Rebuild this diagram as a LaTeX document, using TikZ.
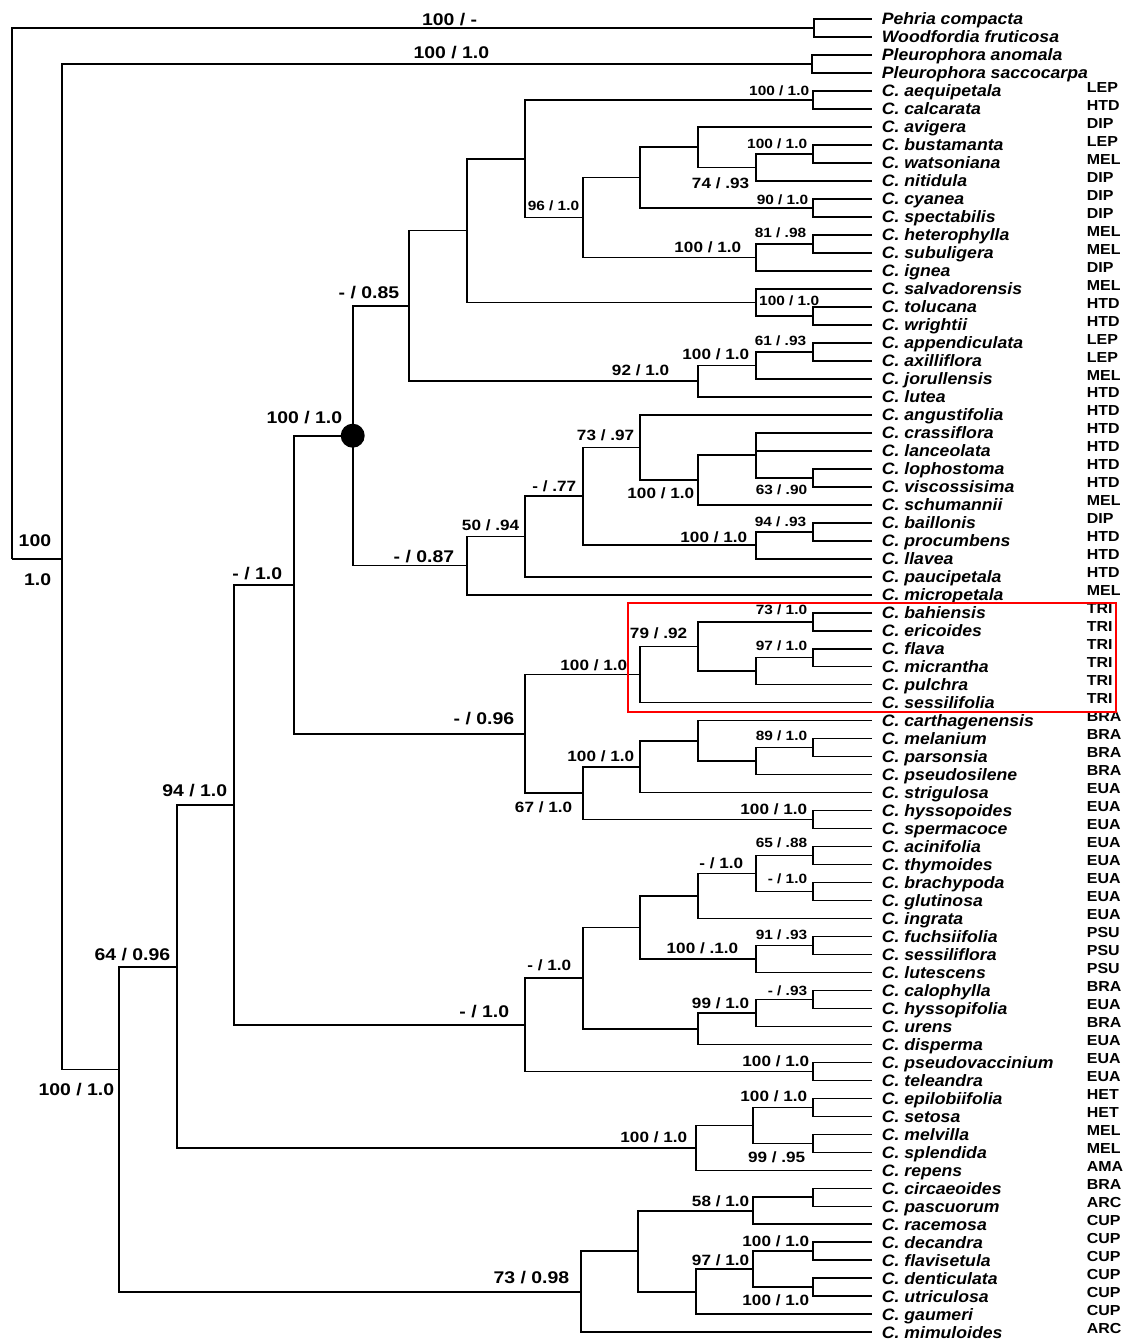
\documentclass[tikz,border=0pt]{standalone}
\usepackage{fontspec}
\usepackage{tikz}
\usetikzlibrary{positioning}
\newfontfamily\brfont[FakeStretch=1.15]{Liberation Sans}
\newfontfamily\lvfont[FakeStretch=1.07]{Liberation Sans}
\newfontfamily\sefont[FakeStretch=1.1]{Liberation Sans}

\begin{document}
\begin{tikzpicture}[x=1pt,y=-1pt,line width=1.7pt,
  every node/.style={inner sep=0pt},
  leaf/.style={anchor=base west,yshift=-5.9pt,font=\lvfont\bfseries\itshape\fontsize{16.5}{18}\selectfont},
  sect/.style={anchor=base west,yshift=-1.2pt,font=\sefont\bfseries\fontsize{14.5}{16}\selectfont},
  supsm/.style={anchor=base east,yshift=-4.8pt,font=\brfont\bfseries\fontsize{13.4}{14}\selectfont},
  supmd/.style={anchor=base east,yshift=-5.3pt,font=\brfont\bfseries\fontsize{14.9}{16}\selectfont},
  suplg/.style={anchor=base east,yshift=-6pt,font=\brfont\bfseries\fontsize{16.9}{18}\selectfont}]
\fill[white] (0,0) rectangle (1124,1340);
% leaf tips
\foreach \i in {1,...,74}
  \coordinate (t\i) at (872,{19+(\i-1)*17.99});
\node[leaf] (n1) at ([xshift=9pt]t1) {Pehria compacta};
\node[leaf] (n2) at ([xshift=9pt]t2) {Woodfordia fruticosa};
\node[leaf] (n3) at ([xshift=9pt]t3) {Pleurophora anomala};
\node[leaf] (n4) at ([xshift=9pt]t4) {Pleurophora saccocarpa};
\foreach \i/\nm/\cd in {5/aequipetala/LEP, 6/calcarata/HTD, 7/avigera/DIP, 8/bustamanta/LEP,
  9/watsoniana/MEL, 10/nitidula/DIP, 11/cyanea/DIP, 12/spectabilis/DIP, 13/heterophylla/MEL,
  14/subuligera/MEL, 15/ignea/DIP, 16/salvadorensis/MEL, 17/tolucana/HTD, 18/wrightii/HTD,
  19/appendiculata/LEP, 20/axilliflora/LEP, 21/jorullensis/MEL, 22/lutea/HTD, 23/angustifolia/HTD,
  24/crassiflora/HTD, 25/lanceolata/HTD, 26/lophostoma/HTD, 27/viscossisima/HTD, 28/schumannii/MEL,
  29/baillonis/DIP, 30/procumbens/HTD, 31/llavea/HTD, 32/paucipetala/HTD, 33/micropetala/MEL,
  34/bahiensis/TRI, 35/ericoides/TRI, 36/flava/TRI, 37/micrantha/TRI, 38/pulchra/TRI,
  39/sessilifolia/TRI, 40/carthagenensis/BRA, 41/melanium/BRA, 42/parsonsia/BRA,
  43/pseudosilene/BRA, 44/strigulosa/EUA, 45/hyssopoides/EUA, 46/spermacoce/EUA,
  47/acinifolia/EUA, 48/thymoides/EUA, 49/brachypoda/EUA, 50/glutinosa/EUA, 51/ingrata/EUA,
  52/fuchsiifolia/PSU, 53/sessiliflora/PSU, 54/lutescens/PSU, 55/calophylla/BRA,
  56/hyssopifolia/EUA, 57/urens/BRA, 58/disperma/EUA, 59/pseudovaccinium/EUA, 60/teleandra/EUA,
  61/epilobiifolia/HET, 62/setosa/HET, 63/melvilla/MEL, 64/splendida/MEL, 65/repens/AMA,
  66/circaeoides/BRA, 67/pascuorum/ARC, 68/racemosa/CUP, 69/decandra/CUP, 70/flavisetula/CUP,
  71/denticulata/CUP, 72/utriculosa/CUP, 73/gaumeri/CUP, 74/mimuloides/ARC}{
  \node[leaf] (n\i) at ([xshift=9pt]t\i) {C.\ \nm};
  \node[sect] (s\i) at ([xshift=214pt]t\i) {\cd};
}
% inner nodes
\coordinate (root) at (11.7,559);
\coordinate (PW) at (814,28);
\coordinate (B) at (61.7,559);
\coordinate (PL) at (812,64);
\coordinate (C) at (119.3,1069.6);
\coordinate (D) at (176.7,967);
\coordinate (E) at (234.3,804.8);
\coordinate (F) at (294,584.8);
\coordinate (G) at (352.7,435.7);
\coordinate (H) at (409.3,305.9);
\coordinate (I) at (467.3,230.6);
\coordinate (J) at (525,158.8);
\coordinate (Jp) at (813.3,100);
\coordinate (K) at (582.7,217.5);
\coordinate (L) at (640,177.6);
\coordinate (M) at (697.7,147.2);
\coordinate (N) at (755.7,167.5);
\coordinate (Np) at (813.3,153.9);
\coordinate (Lp) at (813.3,207.9);
\coordinate (Kb) at (755.7,257.4);
\coordinate (Kbp) at (813.3,243.9);
\coordinate (Ib) at (755.7,302.4);
\coordinate (Ibp) at (813.3,315.8);
\coordinate (Hb) at (697.7,381.1);
\coordinate (O) at (755.7,365.4);
\coordinate (Op) at (813.3,351.8);
\coordinate (P) at (467.3,565.6);
\coordinate (Q) at (525,536.5);
\coordinate (R) at (582.7,496.3);
\coordinate (S) at (640,447.4);
\coordinate (U) at (697.7,480);
\coordinate (V) at (755.7,455.3);
\coordinate (Vp) at (813.3,477.7);
\coordinate (T) at (755.7,545.2);
\coordinate (Tp) at (813.3,531.7);
\coordinate (W) at (525.3,733.8);
\coordinate (X) at (640,674.5);
\coordinate (Y) at (697.7,646.4);
\coordinate (Yp) at (813.3,621.7);
\coordinate (Z) at (755.7,671.1);
\coordinate (Zp) at (813.3,657.6);
\coordinate (AA) at (582.7,793.1);
\coordinate (AAp) at (813.3,819.6);
\coordinate (AB) at (640,766.7);
\coordinate (AC) at (697.7,740.9);
\coordinate (AD) at (755.7,761.1);
\coordinate (ADp) at (813.3,747.6);
\coordinate (AE) at (525.3,1024.8);
\coordinate (AEp) at (813.3,1071.4);
\coordinate (AF) at (582.7,978.1);
\coordinate (AG) at (640,927.5);
\coordinate (AI) at (697.7,896);
\coordinate (AK) at (755.7,873.5);
\coordinate (AKa) at (813.3,855.5);
\coordinate (AKb) at (813.3,891.5);
\coordinate (AJ) at (755.7,959);
\coordinate (AJp) at (813.3,945.5);
\coordinate (AH) at (697.7,1028.7);
\coordinate (AL) at (755.7,1012.9);
\coordinate (ALp) at (813.3,999.5);
\coordinate (AM) at (696,1147.9);
\coordinate (AN) at (753.3,1125.4);
\coordinate (ANa) at (813.3,1107.4);
\coordinate (ANb) at (813.3,1143.4);
\coordinate (AO) at (580.7,1291.8);
\coordinate (AP) at (638.3,1251.3);
\coordinate (AQ) at (753.3,1210.8);
\coordinate (AQp) at (813.3,1197.3);
\coordinate (AR) at (696,1291.8);
\coordinate (AS) at (753.3,1269.3);
\coordinate (ASa) at (813.3,1251.3);
\coordinate (ASb) at (813.3,1287.3);
% branches
\draw (root) |- (PW) (root) |- (B)
  (PW) |- (t1) (PW) |- (t2)
  (B) |- (PL) (B) |- (C)
  (PL) |- (t3) (PL) |- (t4)
  (C) |- (D) (C) |- (AO)
  (D) |- (E) (D) |- (AM)
  (E) |- (F) (E) |- (AE)
  (F) |- (G) (F) |- (W)
  (G) |- (H) (G) |- (P)
  (H) |- (I) (H) |- (Hb)
  (I) |- (J) (I) |- (Ib)
  (J) |- (Jp) (J) |- (K)
  (Jp) |- (t5) (Jp) |- (t6)
  (K) |- (L) (K) |- (Kb)
  (L) |- (M) (L) |- (Lp)
  (M) |- (t7) (M) |- (N)
  (N) |- (Np) (N) |- (t10)
  (Np) |- (t8) (Np) |- (t9)
  (Lp) |- (t11) (Lp) |- (t12)
  (Kb) |- (Kbp) (Kb) |- (t15)
  (Kbp) |- (t13) (Kbp) |- (t14)
  (Ib) |- (t16) (Ib) |- (Ibp)
  (Ibp) |- (t17) (Ibp) |- (t18)
  (Hb) |- (O) (Hb) |- (t22)
  (O) |- (Op) (O) |- (t21)
  (Op) |- (t19) (Op) |- (t20)
  (P) |- (Q) (P) |- (t33)
  (Q) |- (R) (Q) |- (t32)
  (R) |- (S) (R) |- (T)
  (S) |- (t23) (S) |- (U)
  (U) |- (V) (U) |- (t28)
  (V) |- (t24) (V) |- (t25) (V) |- (Vp)
  (Vp) |- (t26) (Vp) |- (t27)
  (T) |- (Tp) (T) |- (t31)
  (Tp) |- (t29) (Tp) |- (t30)
  (W) |- (X) (W) |- (AA)
  (X) |- (Y) (X) |- (t39)
  (Y) |- (Yp) (Y) |- (Z)
  (Yp) |- (t34) (Yp) |- (t35)
  (Z) |- (Zp) (Z) |- (t38)
  (Zp) |- (t36) (Zp) |- (t37)
  (AA) |- (AB) (AA) |- (AAp)
  (AAp) |- (t45) (AAp) |- (t46)
  (AB) |- (AC) (AB) |- (t44)
  (AC) |- (t40) (AC) |- (AD)
  (AD) |- (ADp) (AD) |- (t43)
  (ADp) |- (t41) (ADp) |- (t42)
  (AE) |- (AF) (AE) |- (AEp)
  (AEp) |- (t59) (AEp) |- (t60)
  (AF) |- (AG) (AF) |- (AH)
  (AG) |- (AI) (AG) |- (AJ)
  (AI) |- (AK) (AI) |- (t51)
  (AK) |- (AKa) (AK) |- (AKb)
  (AKa) |- (t47) (AKa) |- (t48)
  (AKb) |- (t49) (AKb) |- (t50)
  (AJ) |- (AJp) (AJ) |- (t54)
  (AJp) |- (t52) (AJp) |- (t53)
  (AH) |- (AL) (AH) |- (t58)
  (AL) |- (ALp) (AL) |- (t57)
  (ALp) |- (t55) (ALp) |- (t56)
  (AM) |- (AN) (AM) |- (t65)
  (AN) |- (ANa) (AN) |- (ANb)
  (ANa) |- (t61) (ANa) |- (t62)
  (ANb) |- (t63) (ANb) |- (t64)
  (AO) |- (AP) (AO) |- (t74)
  (AP) |- (AQ) (AP) |- (AR)
  (AQ) |- (AQp) (AQ) |- (t68)
  (AQp) |- (t66) (AQp) |- (t67)
  (AR) |- (AS) (AR) |- (t73)
  (AS) |- (ASa) (AS) |- (ASb)
  (ASa) |- (t69) (ASa) |- (t70)
  (ASb) |- (t71) (ASb) |- (t72);
\fill (G) circle (12pt);
% support values
\node[suplg] (b1) at (478,20) {100 / -};
\node[suplg] (b2) at (490,53) {100 / 1.0};
\node[suplg] (b3) at (52,540) {100};
\node[suplg] (b4) at (52,579) {1.0};
\node[suplg] (b5) at (400,292) {- / 0.85};
\node[suplg] (b6) at (343,417) {100 / 1.0};
\node[suplg] (b7) at (455,556) {- / 0.87};
\node[suplg] (b8) at (283,573) {- / 1.0};
\node[suplg] (b9) at (228,790) {94 / 1.0};
\node[suplg] (b10) at (171,954) {64 / 0.96};
\node[suplg] (b11) at (115,1089) {100 / 1.0};
\node[suplg] (b12) at (515,718) {- / 0.96};
\node[suplg] (b13) at (510,1011) {- / 1.0};
\node[suplg] (b14) at (570,1277) {73 / 0.98};
\node[supmd] (m1) at (742,247) {100 / 1.0};
\node[supmd] (m2) at (750,183) {74 / .93};
\node[supmd] (m3) at (670,370) {92 / 1.0};
\node[supmd] (m4) at (750,354) {100 / 1.0};
\node[supmd] (m5) at (635,435) {73 / .97};
\node[supmd] (m6) at (577,486) {- / .77};
\node[supmd] (m7) at (520,525) {50 / .94};
\node[supmd] (m8) at (695,493) {100 / 1.0};
\node[supmd] (m9) at (748,537) {100 / 1.0};
\node[supmd] (m10) at (628,665) {100 / 1.0};
\node[supmd] (m11) at (688,633) {79 / .92};
\node[supmd] (m12) at (635,756) {100 / 1.0};
\node[supmd] (m13) at (573,807) {67 / 1.0};
\node[supmd] (m14) at (808,809) {100 / 1.0};
\node[supmd] (m15) at (572,965) {- / 1.0};
\node[supmd] (m16) at (739,948) {100 / .1.0};
\node[supmd] (m17) at (744,863) {- / 1.0};
\node[supmd] (m18) at (750,1003) {99 / 1.0};
\node[supmd] (m19) at (810,1061) {100 / 1.0};
\node[supmd] (m20) at (688,1137) {100 / 1.0};
\node[supmd] (m21) at (808,1096) {100 / 1.0};
\node[supmd] (m22) at (806,1157) {99 / .95};
\node[supmd] (m23) at (750,1201) {58 / 1.0};
\node[supmd] (m24) at (750,1260) {97 / 1.0};
\node[supmd] (m25) at (810,1241) {100 / 1.0};
\node[supmd] (m26) at (810,1300) {100 / 1.0};
\node[supsm] (a1) at (810,91) {100 / 1.0};
\node[supsm] (a2) at (808,144) {100 / 1.0};
\node[supsm] (a3) at (580,206) {96 / 1.0};
\node[supsm] (a4) at (809,200) {90 / 1.0};
\node[supsm] (a5) at (807,233) {81 / .98};
\node[supsm] (a6) at (820,301) {100 / 1.0};
\node[supsm] (a7) at (807,341) {61 / .93};
\node[supsm] (a8) at (808,490) {63 / .90};
\node[supsm] (a9) at (807,522) {94 / .93};
\node[supsm] (a10) at (808,610) {73 / 1.0};
\node[supsm] (a11) at (808,646) {97 / 1.0};
\node[supsm] (a12) at (808,736) {89 / 1.0};
\node[supsm] (a13) at (808,843) {65 / .88};
\node[supsm] (a14) at (808,879) {- / 1.0};
\node[supsm] (a15) at (808,935) {91 / .93};
\node[supsm] (a16) at (808,991) {- / .93};
% TRI box
\draw[red,line width=2.8pt] (628,603) rectangle (1116,712);
\end{tikzpicture}
\end{document}
